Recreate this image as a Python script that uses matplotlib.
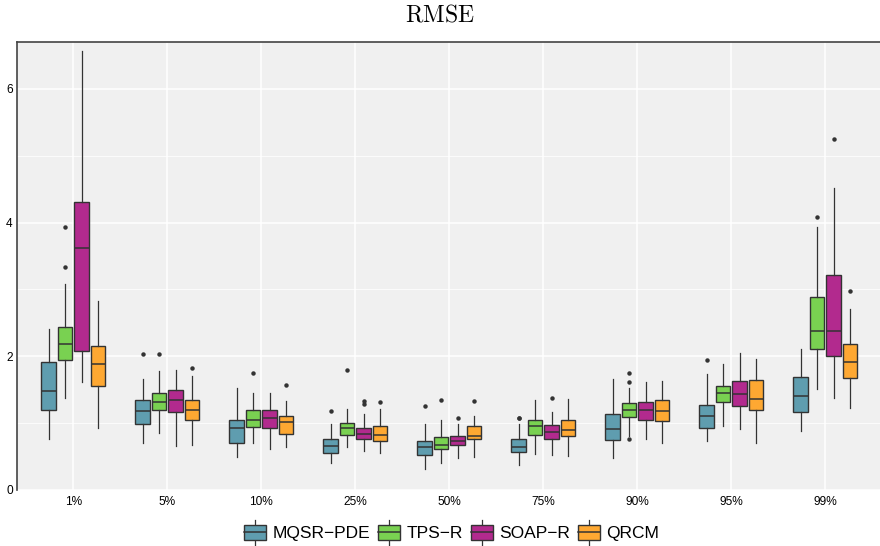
import matplotlib
matplotlib.use("Agg")
import matplotlib.pyplot as plt
from matplotlib.legend_handler import HandlerBase
from matplotlib.patches import Rectangle, Patch
from matplotlib.lines import Line2D
from matplotlib.ticker import MultipleLocator

plt.rcParams['font.family'] = ['Liberation Sans', 'DejaVu Sans']
plt.rcParams['mathtext.fontset'] = 'cm'

categories = ["1%", "5%", "10%", "25%", "50%", "75%", "90%", "95%", "99%"]
methods = ["MQSR\u2212PDE", "TPS\u2212R", "SOAP\u2212R", "QRCM"]
colors = ["#5F9DAF", "#79D151", "#B22A8E", "#FEA832"]

# MQSR-PDE
mqsr_lo  = [0.77, 0.70, 0.49, 0.40, 0.31, 0.37, 0.48, 0.73, 0.88]
mqsr_q1  = [1.20, 0.99, 0.71, 0.55, 0.52, 0.57, 0.75, 0.92, 1.17]
mqsr_med = [1.48, 1.18, 0.92, 0.66, 0.64, 0.65, 0.91, 1.11, 1.41]
mqsr_q3  = [1.91, 1.35, 1.04, 0.76, 0.73, 0.76, 1.13, 1.27, 1.69]
mqsr_hi  = [2.41, 1.66, 1.52, 0.98, 0.98, 0.98, 1.66, 1.74, 2.11]
mqsr_out = [[], [2.04], [], [1.18], [1.26], [1.07, 1.08], [], [1.95], []]

# TPS-R
tps_lo  = [1.38, 0.85, 0.70, 0.64, 0.40, 0.54, 0.81, 0.95, 1.51]
tps_q1  = [1.94, 1.19, 0.94, 0.83, 0.61, 0.82, 1.09, 1.31, 2.11]
tps_med = [2.18, 1.31, 1.05, 0.92, 0.68, 0.96, 1.20, 1.45, 2.38]
tps_q3  = [2.44, 1.45, 1.20, 1.00, 0.79, 1.04, 1.30, 1.56, 2.88]
tps_hi  = [3.08, 1.78, 1.45, 1.21, 1.05, 1.35, 1.52, 1.89, 3.93]
tps_out = [[3.33, 3.93], [2.03], [1.75], [1.79], [1.35], [], [0.76, 1.61, 1.75], [], [4.08]]

# SOAP-R
soap_lo  = [1.62, 0.66, 0.61, 0.58, 0.48, 0.52, 0.76, 0.91, 1.37]
soap_q1  = [2.08, 1.16, 0.92, 0.76, 0.67, 0.77, 1.05, 1.26, 2.00]
soap_med = [3.62, 1.35, 1.07, 0.84, 0.74, 0.86, 1.20, 1.43, 2.38]
soap_q3  = [4.31, 1.50, 1.19, 0.92, 0.81, 0.97, 1.32, 1.63, 3.21]
soap_hi  = [6.57, 1.80, 1.45, 1.14, 0.98, 1.16, 1.62, 2.05, 4.51]
soap_out = [[], [], [], [1.29, 1.33], [1.08], [1.37], [], [], [5.25]]

# QRCM
qrcm_lo  = [0.92, 0.68, 0.64, 0.55, 0.49, 0.51, 0.70, 0.70, 1.22]
qrcm_q1  = [1.55, 1.04, 0.84, 0.73, 0.76, 0.81, 1.03, 1.20, 1.67]
qrcm_med = [1.89, 1.19, 1.01, 0.82, 0.81, 0.89, 1.18, 1.36, 1.91]
qrcm_q3  = [2.16, 1.34, 1.11, 0.95, 0.95, 1.04, 1.34, 1.64, 2.19]
qrcm_hi  = [2.82, 1.71, 1.33, 1.21, 1.11, 1.36, 1.63, 1.96, 2.71]
qrcm_out = [[], [1.83], [1.57], [1.31], [1.33], [], [], [], [2.98]]

series = [
    (mqsr_lo, mqsr_q1, mqsr_med, mqsr_q3, mqsr_hi, mqsr_out),
    (tps_lo, tps_q1, tps_med, tps_q3, tps_hi, tps_out),
    (soap_lo, soap_q1, soap_med, soap_q3, soap_hi, soap_out),
    (qrcm_lo, qrcm_q1, qrcm_med, qrcm_q3, qrcm_hi, qrcm_out),
]

W, H = 880, 546
fig = plt.figure(figsize=(W / 100, H / 100), dpi=100)
ax_left = 17 / W
ax_w = 9.2 * 94 / W
ax = fig.add_axes([ax_left, 1 - 490 / H, ax_w, 448 / H])
ax.set_facecolor("#F0F0F0")

edge = "#333333"
dodge = 0.175
bw = 0.154
for j, (lo, q1, med, q3, hi, out) in enumerate(series):
    stats = []
    for i in range(len(categories)):
        stats.append(dict(whislo=lo[i], q1=q1[i], med=med[i], q3=q3[i],
                          whishi=hi[i], fliers=out[i]))
    pos = [i + 1 + (j - 1.5) * dodge for i in range(len(categories))]
    ax.bxp(stats, positions=pos, widths=bw, patch_artist=True,
           showcaps=False, manage_ticks=False,
           boxprops=dict(facecolor=colors[j], edgecolor=edge, linewidth=1.0),
           medianprops=dict(color=edge, linewidth=1.1),
           whiskerprops=dict(color=edge, linewidth=0.9),
           flierprops=dict(marker='o', markersize=2.2, markerfacecolor=edge,
                           markeredgecolor=edge, linestyle='none'),
           zorder=3)

ax.set_xlim(0.4, 9.6)
ax.set_ylim(0, 6.70)
ax.set_xticks(range(1, len(categories) + 1))
ax.set_xticklabels(categories)
ax.yaxis.set_major_locator(MultipleLocator(2))
ax.yaxis.set_minor_locator(MultipleLocator(1))
ax.grid(which='major', color='white', linewidth=1.1, zorder=0)
ax.grid(which='minor', axis='y', color='white', linewidth=0.55, zorder=0)
ax.set_axisbelow(True)
ax.tick_params(which='both', length=0, labelsize=8.6, colors='black', pad=4)
ax.tick_params(axis='y', pad=3)
for s in ['bottom', 'right']:
    ax.spines[s].set_visible(False)
for s in ['top', 'left']:
    ax.spines[s].set_color('#444444')
    ax.spines[s].set_linewidth(1.2)

fig.text(0.5, 1 - 15 / H, r'$\mathrm{RMSE}$', ha='center', va='center', fontsize=17)


class HandlerBox(HandlerBase):
    def create_artists(self, legend, orig_handle, xdescent, ydescent,
                       width, height, fontsize, trans):
        fc = orig_handle.get_facecolor()
        bh = height * 0.95
        y0 = -ydescent + (height - bh) / 2
        x0 = -xdescent
        xc = x0 + width / 2
        top = y0 + bh
        wl1 = Line2D([xc, xc], [top, top + height * 0.35], color=edge, lw=0.9, transform=trans)
        wl2 = Line2D([xc, xc], [y0, y0 - height * 0.35], color=edge, lw=0.9, transform=trans)
        r = Rectangle((x0, y0), width, bh, facecolor=fc, edgecolor=edge, lw=1.0, transform=trans)
        m = Line2D([x0, x0 + width], [y0 + bh / 2] * 2, color=edge, lw=1.1, transform=trans)
        return [wl1, wl2, r, m]


handles = [Patch(facecolor=c, edgecolor=edge) for c in colors]
fig.legend(handles, methods, handler_map={Patch: HandlerBox()}, loc='center',
           bbox_to_anchor=(451.5 / W, 1 - 533 / H), ncol=4, frameon=False,
           fontsize=12.5, handlelength=1.3, handleheight=1.0, handletextpad=0.35,
           columnspacing=0.45, borderaxespad=0, borderpad=0)

fig.savefig("out.png", dpi=100)
